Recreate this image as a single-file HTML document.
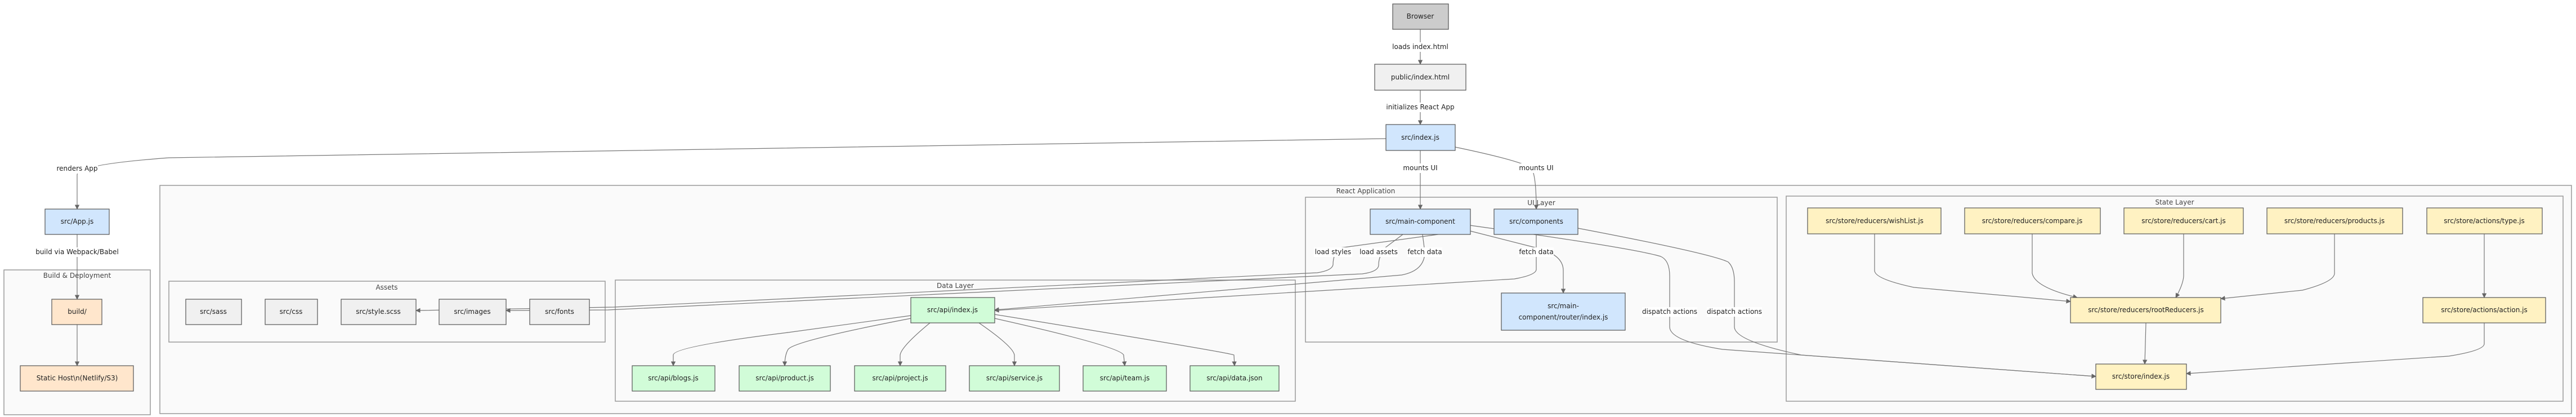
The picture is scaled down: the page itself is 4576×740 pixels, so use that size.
<!DOCTYPE html>
<html><head><meta charset="utf-8"><style>
html,body{margin:0;padding:0;background:#fff;}
svg{display:block;font-family:"DejaVu Sans","Liberation Sans",sans-serif;}
.n{stroke:#555;stroke-width:1.2;}
.c{fill:#fafafa;stroke:#999;stroke-width:1.5;}
.e{fill:none;stroke:#777;stroke-width:1.2;marker-end:url(#a);}
.t{font-size:12px;fill:#222;text-anchor:middle;dominant-baseline:central;}
.ct{font-size:12px;fill:#444;text-anchor:middle;dominant-baseline:central;}
.lb{fill:#fff;}
</style></head><body>
<svg width="4576" height="740" viewBox="0 0 4576 740" xmlns="http://www.w3.org/2000/svg">
<defs><marker id="a" viewBox="0 0 10 10" refX="9" refY="5" markerWidth="7" markerHeight="7" orient="auto"><path d="M0,0L10,5L0,10z" fill="#666"/></marker></defs>

<!-- clusters -->
<rect class="c" x="7" y="479" width="260" height="257"/>
<text class="ct" x="137" y="489">Build &amp; Deployment</text>
<rect class="c" x="284" y="329" width="4284" height="405"/>
<text class="ct" x="2426" y="339">React Application</text>
<rect class="c" x="300" y="499" width="775" height="108"/>
<text class="ct" x="687" y="510">Assets</text>
<rect class="c" x="1093" y="497" width="1208" height="215"/>
<text class="ct" x="1697" y="507">Data Layer</text>
<rect class="c" x="2319" y="350" width="838" height="257"/>
<text class="ct" x="2738" y="360">UI Layer</text>
<rect class="c" x="3173" y="348" width="1380" height="364"/>
<text class="ct" x="3863" y="359">State Layer</text>

<!-- edges -->
<path class="e" d="M2523,52 L2523,114"/>
<path class="e" d="M2523,160 L2523,221"/>
<path class="e" d="M2462,246 L300,280 Q137,292 137,310 L137,371"/>
<path class="e" d="M137,416 L137,531"/>
<path class="e" d="M137,576 L137,649"/>
<path class="e" d="M2523,267 L2523,371"/>
<path class="e" d="M2585,261 Q2700,285 2720,298 Q2729,310 2729,371"/>
<path class="e" d="M2584,412 L2380,440 Q2368,450 2368,470 Q2366,480 2340,484 L1090,545 L739,551"/>
<path class="e" d="M2492,416 L2460,440 Q2449,455 2449,470 Q2449,482 2420,486 L1080,550 L899,551"/>
<path class="e" d="M2527,416 L2531,447 Q2531,480 2490,488 L1767,550"/>
<path class="e" d="M2729,416 L2729,478 Q2729,488 2690,495 L1767,551"/>
<path class="e" d="M2612,410 L2730,440 Q2777,452 2777,480 L2777,520"/>
<path class="e" d="M2612,400 Q2900,440 2950,455 Q2966,462 2966,490 L2966,580 Q2966,605 3060,620 L3723,668"/>
<path class="e" d="M2803,405 Q3040,450 3070,465 Q3081,475 3081,500 L3081,580 Q3081,605 3200,630 L3723,668"/>
<path class="e" d="M3330,415 L3330,480 Q3330,495 3400,510 L3678,535"/>
<path class="e" d="M3610,415 L3610,485 Q3615,510 3690,528"/>
<path class="e" d="M3879,415 L3879,490 Q3878,505 3865,528"/>
<path class="e" d="M4147,415 L4147,485 Q4147,500 4090,515 L3945,530"/>
<path class="e" d="M4413,415 L4413,528"/>
<path class="e" d="M3812,573 L3810,646"/>
<path class="e" d="M4413,573 L4413,610 Q4413,622 4350,632 L3884,663"/>
<path class="e" d="M1618,560 L1400,590 Q1196,615 1196,630 L1196,649"/>
<path class="e" d="M1618,565 Q1410,605 1400,620 Q1394,630 1394,649"/>
<path class="e" d="M1652,573 Q1601,615 1599,630 L1599,649"/>
<path class="e" d="M1739,573 Q1800,615 1802,630 L1802,649"/>
<path class="e" d="M1767,565 Q1990,615 1996,630 L1998,649"/>
<path class="e" d="M1767,558 Q2180,625 2192,630 L2193,649"/>

<!-- edge labels -->
<g>
<rect class="lb" x="2471" y="75" width="104" height="17"/><text class="t" x="2523" y="83">loads index.html</text>
<rect class="lb" x="2460" y="182" width="126" height="17"/><text class="t" x="2523" y="190">initializes React App</text>
<rect class="lb" x="100" y="291" width="74" height="17"/><text class="t" x="137" y="299">renders App</text>
<rect class="lb" x="62" y="439" width="150" height="17"/><text class="t" x="137" y="447">build via Webpack/Babel</text>
<rect class="lb" x="2492" y="290" width="62" height="17"/><text class="t" x="2523" y="298">mounts UI</text>
<rect class="lb" x="2698" y="290" width="62" height="17"/><text class="t" x="2729" y="298">mounts UI</text>
<rect class="lb" x="2334" y="439" width="68" height="17"/><text class="t" x="2368" y="447">load styles</text>
<rect class="lb" x="2415" y="439" width="68" height="17"/><text class="t" x="2449" y="447">load assets</text>
<rect class="lb" x="2500" y="439" width="62" height="17"/><text class="t" x="2531" y="447">fetch data</text>
<rect class="lb" x="2698" y="439" width="62" height="17"/><text class="t" x="2729" y="447">fetch data</text>
<rect class="lb" x="2917" y="545" width="98" height="17"/><text class="t" x="2966" y="553">dispatch actions</text>
<rect class="lb" x="3032" y="545" width="98" height="17"/><text class="t" x="3081" y="553">dispatch actions</text>
</g>

<!-- nodes -->
<g font-size="12">
<rect class="n" x="2474" y="7" width="99" height="45" fill="#cccccc"/><text class="t" x="2523" y="29">Browser</text>
<rect class="n" x="2442" y="114" width="162" height="46" fill="#f0f0f0"/><text class="t" x="2523" y="137">public/index.html</text>
<rect class="n" x="2462" y="221" width="123" height="46" fill="#d1e6fd"/><text class="t" x="2523" y="244">src/index.js</text>
<rect class="n" x="80" y="371" width="114" height="45" fill="#d1e6fd"/><text class="t" x="137" y="393">src/App.js</text>
<rect class="n" x="92" y="531" width="89" height="45" fill="#ffe6cc"/><text class="t" x="137" y="553">build/</text>
<rect class="n" x="36" y="649" width="201" height="45" fill="#ffe6cc"/><text class="t" x="137" y="671">Static Host\n(Netlify/S3)</text>

<rect class="n" x="330" y="531" width="99" height="45" fill="#f0f0f0"/><text class="t" x="379" y="553">src/sass</text>
<rect class="n" x="471" y="531" width="93" height="45" fill="#f0f0f0"/><text class="t" x="517" y="553">src/css</text>
<rect class="n" x="606" y="531" width="133" height="45" fill="#f0f0f0"/><text class="t" x="672" y="553">src/style.scss</text>
<rect class="n" x="780" y="531" width="119" height="45" fill="#f0f0f0"/><text class="t" x="839" y="553">src/images</text>
<rect class="n" x="941" y="531" width="106" height="45" fill="#f0f0f0"/><text class="t" x="994" y="553">src/fonts</text>

<rect class="n" x="1618" y="528" width="149" height="45" fill="#d1fcd8"/><text class="t" x="1692" y="550">src/api/index.js</text>
<rect class="n" x="1123" y="649" width="147" height="45" fill="#d1fcd8"/><text class="t" x="1196" y="671">src/api/blogs.js</text>
<rect class="n" x="1313" y="649" width="162" height="45" fill="#d1fcd8"/><text class="t" x="1394" y="671">src/api/product.js</text>
<rect class="n" x="1518" y="649" width="162" height="45" fill="#d1fcd8"/><text class="t" x="1599" y="671">src/api/project.js</text>
<rect class="n" x="1722" y="649" width="160" height="45" fill="#d1fcd8"/><text class="t" x="1802" y="671">src/api/service.js</text>
<rect class="n" x="1924" y="649" width="148" height="45" fill="#d1fcd8"/><text class="t" x="1998" y="671">src/api/team.js</text>
<rect class="n" x="2114" y="649" width="158" height="45" fill="#d1fcd8"/><text class="t" x="2193" y="671">src/api/data.json</text>

<rect class="n" x="2434" y="371" width="178" height="45" fill="#d1e6fd"/><text class="t" x="2523" y="393">src/main-component</text>
<rect class="n" x="2654" y="371" width="149" height="45" fill="#d1e6fd"/><text class="t" x="2729" y="393">src/components</text>
<rect class="n" x="2667" y="520" width="220" height="66" fill="#d1e6fd"/><text class="t" x="2777" y="543">src/main-</text><text class="t" x="2777" y="563">component/router/index.js</text>

<rect class="n" x="3211" y="369" width="237" height="46" fill="#fff2c2"/><text class="t" x="3330" y="392">src/store/reducers/wishList.js</text>
<rect class="n" x="3490" y="369" width="241" height="46" fill="#fff2c2"/><text class="t" x="3610" y="392">src/store/reducers/compare.js</text>
<rect class="n" x="3773" y="369" width="212" height="46" fill="#fff2c2"/><text class="t" x="3879" y="392">src/store/reducers/cart.js</text>
<rect class="n" x="4027" y="369" width="241" height="46" fill="#fff2c2"/><text class="t" x="4147" y="392">src/store/reducers/products.js</text>
<rect class="n" x="4311" y="369" width="205" height="46" fill="#fff2c2"/><text class="t" x="4413" y="392">src/store/actions/type.js</text>
<rect class="n" x="3678" y="528" width="267" height="45" fill="#fff2c2"/><text class="t" x="3812" y="550">src/store/reducers/rootReducers.js</text>
<rect class="n" x="4304" y="528" width="218" height="45" fill="#fff2c2"/><text class="t" x="4413" y="550">src/store/actions/action.js</text>
<rect class="n" x="3723" y="646" width="161" height="45" fill="#fff2c2"/><text class="t" x="3803" y="668">src/store/index.js</text>
</g>
</svg>
</body></html>
